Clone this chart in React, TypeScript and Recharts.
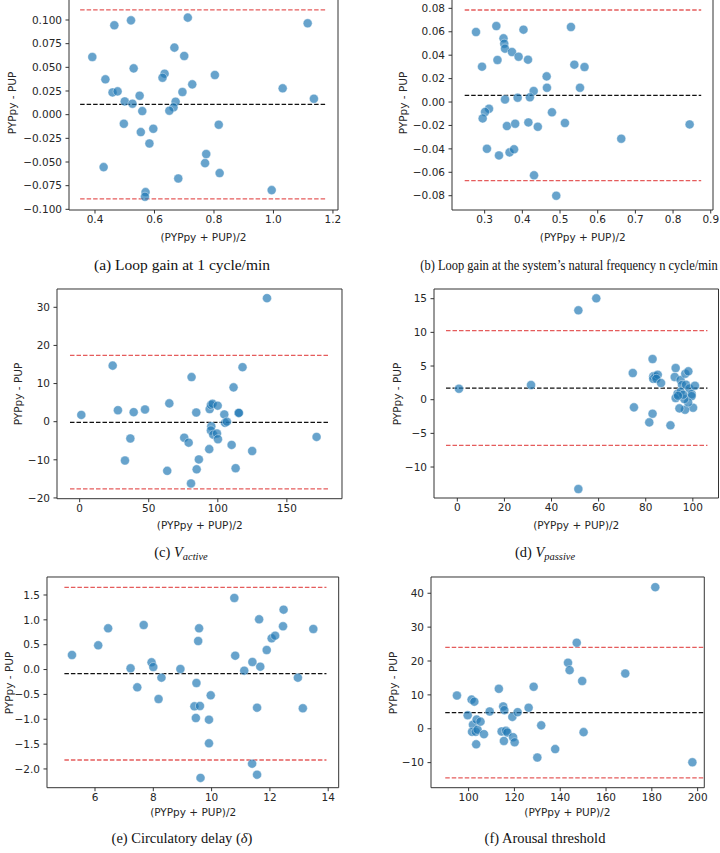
import React from "react";
import {
  ScatterChart,
  Scatter,
  XAxis,
  YAxis,
  ZAxis,
  ReferenceLine,
  ReferenceArea,
} from "recharts";

// (a) loop gain at 1 cycle/min
const aX = [0.391, 0.465, 0.521, 0.712, 1.115, 0.667, 0.7, 0.435, 0.53, 0.634, 0.627, 0.803, 0.459, 0.476, 0.694, 0.727, 1.031, 1.136, 0.5, 0.55, 0.526, 0.671, 0.664, 0.65, 0.559, 0.497, 0.596, 0.554, 0.583, 0.816, 0.774, 0.77, 0.429, 0.819, 0.68, 0.57, 0.568, 0.994];
const aY = [0.0609, 0.0944, 0.0996, 0.1025, 0.0965, 0.0708, 0.062, 0.0373, 0.0489, 0.0433, 0.039, 0.0419, 0.0235, 0.0246, 0.0239, 0.032, 0.0278, 0.0168, 0.014, 0.02, 0.0116, 0.0137, 0.0077, 0.0042, 0.0038, -0.0096, -0.0149, -0.0184, -0.0304, -0.0106, -0.0416, -0.0512, -0.0554, -0.0617, -0.0674, -0.0818, -0.0867, -0.0797];
const aLimits = [0.0109, 0.1106, -0.0889]; // mean, upper, lower
const aSpan = [0.35, 1.174];
const aXTicks = [0.4, 0.6, 0.8, 1.0, 1.2];
const aYTicks = [-0.1, -0.075, -0.05, -0.025, 0, 0.025, 0.05, 0.075, 0.1];

// (b) loop gain at natural frequency
const bX = [0.277, 0.331, 0.403, 0.529, 0.35, 0.352, 0.354, 0.3725, 0.39, 0.415, 0.334, 0.293, 0.538, 0.565, 0.4645, 0.4653, 0.553, 0.43, 0.42, 0.3875, 0.354, 0.3115, 0.301, 0.2947, 0.4786, 0.359, 0.381, 0.416, 0.441, 0.513, 0.844, 0.6625, 0.306, 0.338, 0.366, 0.378, 0.431, 0.49];
const bY = [0.0598, 0.0649, 0.0618, 0.0641, 0.0544, 0.0498, 0.0456, 0.0427, 0.0387, 0.0362, 0.0359, 0.0302, 0.0319, 0.0299, 0.0219, 0.0122, 0.0122, 0.0094, 0.004, 0.0037, 0.0022, -0.0057, -0.0085, -0.014, -0.0088, -0.0205, -0.0185, -0.0174, -0.0211, -0.0179, -0.0191, -0.0313, -0.0399, -0.0456, -0.043, -0.0404, -0.0626, -0.08];
const bLimits = [0.0057, 0.0786, -0.0672];
const bSpan = [0.247, 0.8747];
const bXTicks = [0.3, 0.4, 0.5, 0.6, 0.7, 0.8, 0.9];
const bYTicks = [-0.08, -0.06, -0.04, -0.02, 0, 0.02, 0.04, 0.06, 0.08];

// (c) V active
const cX = [1.2, 23.9, 27.7, 39.1, 47.3, 32.8, 36.7, 64.9, 63.4, 81.0, 75.7, 78.9, 84.4, 84.7, 86.3, 80.6, 94.1, 95.0, 96.2, 99.9, 95.3, 95.0, 96.7, 99.4, 100.1, 93.8, 104.7, 105.2, 106.6, 111.4, 115.0, 115.3, 117.9, 110.0, 112.9, 124.9, 135.6, 171.5];
const cY = [1.77, 14.7, 3.0, 2.5, 3.2, -10.2, -4.4, 4.8, -12.9, 11.7, -4.2, -5.5, 2.4, -12.5, -9.9, -16.2, 3.3, 4.4, 4.7, 4.2, -1.2, -2.3, -3.4, -3.1, -4.6, -7.2, 1.9, -0.3, 0.0, 9.0, 2.3, 2.3, 14.3, -6.1, -12.2, -7.7, 32.4, -4.0];
const cLimits = [-0.16, 17.4, -17.6];
const cSpan = [-7, 180.5];
const cXTicks = [0, 50, 100, 150];
const cYTicks = [-20, -10, 0, 10, 20, 30];

// (d) V passive
const dX = [0.7, 31.3, 51.4, 59.0, 51.4, 74.5, 75.0, 82.9, 83.2, 83.2, 84.1, 85.1, 84.5, 86.5, 82.9, 81.5, 90.5, 92.7, 92.3, 94.8, 95.4, 97.1, 96.8, 98.1, 98.5, 99.5, 99.5, 100.9, 100.1, 96.7, 94.3, 98.0, 96.4, 93.5, 92.7, 94.8, 95.9, 93.7];
const dY = [1.63, 2.18, 13.27, 15.05, -13.27, 3.96, -1.14, 6.04, 3.47, 3.1, 3.47, 3.7, 3.1, 2.48, -2.08, -3.37, -3.81, 4.7, 3.37, 2.92, 2.18, 2.23, 3.86, 4.21, 1.68, 0.84, 0.54, 2.08, -1.19, -1.49, -1.29, -0.4, 0.1, 0.89, 0.25, 1.19, 0.74, 0.59];
const dLimits = [1.73, 10.25, -6.78];
const dSpan = [-4.8, 106.2];
const dXTicks = [0, 20, 40, 60, 80, 100];
const dYTicks = [-10, -5, 0, 5, 10, 15];

// (e) circulatory delay
const eX = [5.21, 6.11, 6.45, 7.67, 7.22, 7.45, 7.94, 8.0, 8.28, 8.18, 8.93, 9.48, 9.41, 9.46, 9.57, 9.54, 9.6, 9.62, 9.91, 9.91, 9.97, 10.78, 10.81, 11.12, 11.4, 11.39, 11.56, 11.56, 11.63, 11.67, 11.89, 12.06, 12.18, 12.45, 12.47, 12.96, 13.13, 13.49];
const eY = [0.293, 0.487, 0.829, 0.896, 0.025, -0.358, 0.145, 0.051, -0.163, -0.593, 0.011, -0.271, -0.74, -0.975, 0.829, 0.574, -0.733, -2.18, -1.008, -1.485, -0.519, 1.44, 0.279, -0.022, 0.152, -1.894, -0.767, -2.115, 1.01, 0.058, 0.393, 0.628, 0.682, 0.87, 1.205, -0.163, -0.78, 0.816];
const eLimits = [-0.083, 1.654, -1.82];
const eSpan = [4.95, 13.94];
const eXTicks = [6, 8, 10, 12, 14];
const eYTicks = [-2, -1.5, -1, -0.5, 0, 0.5, 1, 1.5];

// (f) arousal threshold
const fX = [94.9, 99.6, 101.3, 102.5, 101.9, 101.5, 103.1, 103.5, 103.9, 103.3, 105.2, 106.7, 109.2, 113.2, 115.1, 115.6, 114.4, 116.3, 116.9, 115.4, 119.1, 119.4, 120.1, 121.4, 126.2, 128.4, 130.0, 131.7, 137.8, 143.4, 144.1, 147.2, 149.6, 150.2, 168.4, 181.5, 197.7];
const fY = [9.8, 4.0, 8.6, 8.0, 1.2, -0.9, -0.9, 2.7, -0.3, -4.6, 2.1, -1.6, 5.1, 11.8, 6.6, 5.5, -0.8, -0.6, -1.1, -3.6, 3.5, -2.5, -4.0, 4.9, 6.2, 12.4, -8.5, 1.0, -6.0, 19.5, 17.3, 25.4, 14.1, -1.0, 16.3, 41.8, -9.9];
const fLimits = [4.76, 24.05, -14.5];
const fSpan = [89.8, 202.5];
const fXTicks = [100, 120, 140, 160, 180, 200];
const fYTicks = [-10, 0, 10, 20, 30, 40];

const AXIS_FONT = "'DejaVu Sans', sans-serif";
const CAP_FONT = "'Liberation Serif', 'Times New Roman', serif";
const YW = 60;
const PAD_T = 10;
const XH = 22;

const fmt = (d: number) => (v: number) => v.toFixed(d).replace("-", "\u2212");

type Box = { left: number; top: number; right: number; bottom: number };

interface PanelProps {
  xs: number[];
  ys: number[];
  limits: number[];
  span: number[];
  xTicks: number[];
  yTicks: number[];
  xDomain: number[];
  yDomain: number[];
  xDec: number;
  yDec: number;
  box: Box;
  yLabelX: number;
  caption: React.ReactNode;
  captionX: number;
  captionY: number;
  captionSize?: number;
  captionScale?: number;
  xLabelY: number;
}

const Panel = (p: PanelProps) => {
  const { box } = p;
  const data = p.xs.map((x, i) => ({ x, y: p.ys[i] }));
  const w = box.right - box.left;
  const h = box.bottom - box.top;
  const tickStyle = { fontSize: 10.5, fill: "#262626", fontFamily: AXIS_FONT };
  const [mean, upper, lower] = p.limits;
  const seg = (v: number) => [
    { x: p.span[0], y: v },
    { x: p.span[1], y: v },
  ];
  return (
    <>
      <div style={{ position: "absolute", left: box.left - YW, top: box.top - PAD_T }}>
        <ScatterChart
          width={w + YW + 6}
          height={h + PAD_T + XH + 4}
          margin={{ top: PAD_T, right: 6, bottom: 4, left: 0 }}
        >
          <XAxis
            type="number"
            dataKey="x"
            domain={p.xDomain}
            ticks={p.xTicks}
            allowDataOverflow
            interval={0}
            height={XH}
            axisLine={false}
            tickSize={3.5}
            tickMargin={2.5}
            tickLine={{ stroke: "#333" }}
            tick={tickStyle}
            tickFormatter={fmt(p.xDec)}
          />
          <YAxis
            type="number"
            dataKey="y"
            domain={p.yDomain}
            ticks={p.yTicks}
            allowDataOverflow
            interval={0}
            width={YW}
            axisLine={false}
            tickSize={3.5}
            tickMargin={3.5}
            tickLine={{ stroke: "#333" }}
            tick={tickStyle}
            tickFormatter={fmt(p.yDec)}
          />
          <ZAxis range={[38, 38]} />
          <ReferenceArea
            x1={p.xDomain[0]}
            x2={p.xDomain[1]}
            y1={p.yDomain[0]}
            y2={p.yDomain[1]}
            fill="none"
            stroke="#333"
            strokeWidth={1}
            ifOverflow="visible"
          />
          <Scatter
            data={data}
            fill="#1f77b4"
            fillOpacity={0.68}
            stroke="#ffffff"
            strokeWidth={0.4}
            isAnimationActive={false}
          />
          <ReferenceLine segment={seg(upper)} stroke="#e0403f" strokeOpacity={0.85} strokeWidth={1.3} strokeDasharray="4.5 2" />
          <ReferenceLine segment={seg(lower)} stroke="#e0403f" strokeOpacity={0.85} strokeWidth={1.3} strokeDasharray="4.5 2" />
          <ReferenceLine segment={seg(mean)} stroke="#111" strokeWidth={1.3} strokeDasharray="4.5 2" />
        </ScatterChart>
      </div>
      <div
        style={{
          position: "absolute",
          left: p.yLabelX,
          top: (box.top + box.bottom) / 2,
          transform: "translate(-50%, -50%) rotate(-90deg)",
          whiteSpace: "nowrap",
          fontFamily: AXIS_FONT,
          fontSize: 10.5,
          color: "#262626",
        }}
      >
        PYPpy - PUP
      </div>
      <div
        style={{
          position: "absolute",
          left: (box.left + box.right) / 2,
          top: p.xLabelY,
          transform: "translate(-50%, -50%)",
          whiteSpace: "nowrap",
          fontFamily: AXIS_FONT,
          fontSize: 10.5,
          color: "#262626",
        }}
      >
        (PYPpy + PUP)/2
      </div>
      <div
        style={{
          position: "absolute",
          left: p.captionX,
          top: p.captionY,
          transform: `translate(-50%, -50%) scaleX(${p.captionScale ?? 1})`,
          whiteSpace: "nowrap",
          fontFamily: CAP_FONT,
          fontSize: p.captionSize ?? 14.5,
          color: "#111",
        }}
      >
        {p.caption}
      </div>
    </>
  );
};

const sub = { fontSize: "0.72em", fontStyle: "italic" as const };

export default function App() {
  return (
    <div
      style={{
        position: "absolute",
        left: 0,
        top: 0,
        width: 720,
        height: 853,
        overflow: "hidden",
        background: "#fff",
      }}
    >
      <Panel
        xs={aX} ys={aY} limits={aLimits} span={aSpan}
        xTicks={aXTicks} yTicks={aYTicks}
        xDomain={[0.3126, 1.217]} yDomain={[-0.1007, 0.1264]}
        xDec={1} yDec={3}
        box={{ left: 69, top: -5, right: 338, bottom: 210 }}
        yLabelX={12} xLabelY={237}
        caption="(a) Loop gain at 1 cycle/min" captionX={182} captionY={265}
        captionSize={15.5}
      />
      <Panel
        xs={bX} ys={bY} limits={bLimits} span={bSpan}
        xTicks={bXTicks} yTicks={bYTicks}
        xDomain={[0.2133, 0.906]} yDomain={[-0.0922, 0.0914]}
        xDec={1} yDec={2}
        box={{ left: 452.3, top: -5, right: 713.3, bottom: 210 }}
        yLabelX={403} xLabelY={237}
        caption="(b) Loop gain at the system’s natural frequency n cycle/min" captionX={569} captionY={265}
        captionSize={14.5} captionScale={0.86}
      />
      <Panel
        xs={cX} ys={cY} limits={cLimits} span={cSpan}
        xTicks={cXTicks} yTicks={cYTicks}
        xDomain={[-16.4, 189.9]} yDomain={[-20.2, 34.8]}
        xDec={0} yDec={0}
        box={{ left: 57.3, top: 289.3, right: 342.3, bottom: 499 }}
        yLabelX={18} xLabelY={525}
        caption={<span>(c) <i>V</i><sub style={sub}>active</sub></span>}
        captionX={181} captionY={553}
      />
      <Panel
        xs={dX} ys={dY} limits={dLimits} span={dSpan}
        xTicks={dXTicks} yTicks={dYTicks}
        xDomain={[-9.9, 110.9]} yDomain={[-14.6, 16.44]}
        xDec={0} yDec={0}
        box={{ left: 434, top: 289.3, right: 718.5, bottom: 498.3 }}
        yLabelX={397} xLabelY={525}
        caption={<span>(d) <i>V</i><sub style={sub}>passive</sub></span>}
        captionX={545} captionY={553}
      />
      <Panel
        xs={eX} ys={eY} limits={eLimits} span={eSpan}
        xTicks={eXTicks} yTicks={eYTicks}
        xDomain={[4.353, 14.36]} yDomain={[-2.377, 1.862]}
        xDec={0} yDec={1}
        box={{ left: 47.3, top: 577.3, right: 339, bottom: 788 }}
        yLabelX={8.5} xLabelY={812}
        caption={<span>(e) Circulatory delay (<i>δ</i>)</span>}
        captionX={182} captionY={838}
      />
      <Panel
        xs={fX} ys={fY} limits={fLimits} span={fSpan}
        xTicks={fXTicks} yTicks={fYTicks}
        xDomain={[83.58, 202.9]} yDomain={[-17.4, 44.8]}
        xDec={0} yDec={0}
        box={{ left: 430.7, top: 577.3, right: 704, bottom: 788 }}
        yLabelX={393} xLabelY={812}
        caption="(f) Arousal threshold" captionX={545} captionY={838}
      />
    </div>
  );
}
